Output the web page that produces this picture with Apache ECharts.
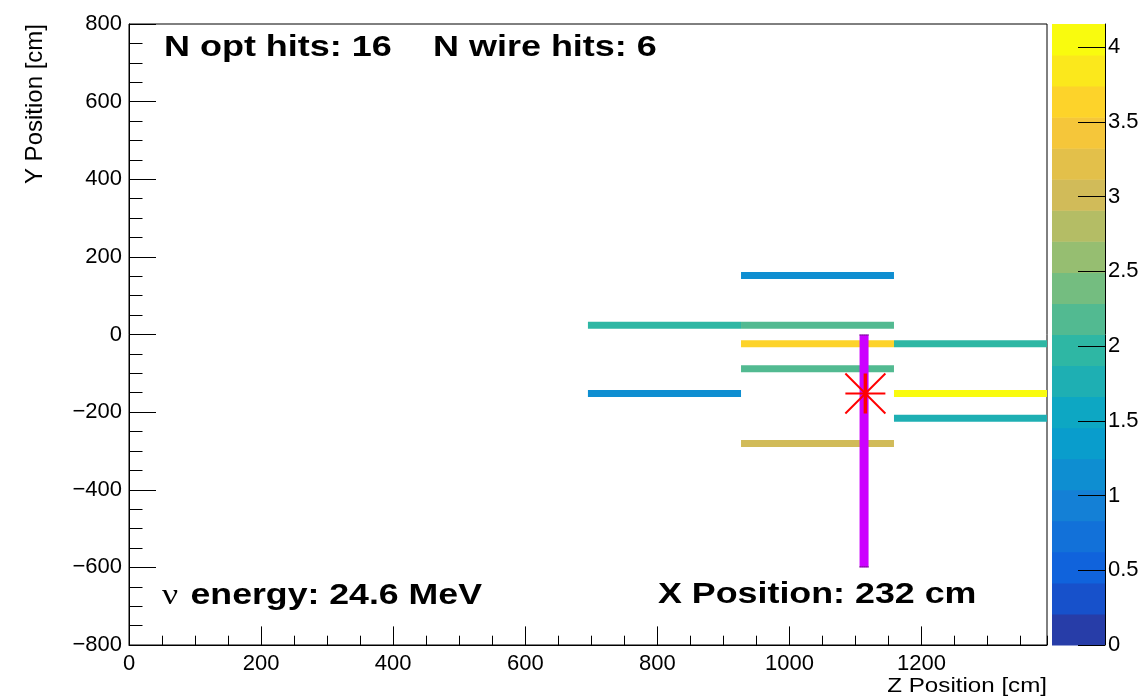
<!DOCTYPE html>
<html>
<head>
<meta charset="utf-8">
<script src="https://cdn.jsdelivr.net/npm/echarts@6/dist/echarts.min.js"></script>
<style>
  html, body { margin: 0; padding: 0; background: #fff; }
  #chart { width: 1146px; height: 697px; }
</style>
</head>
<body>
<div id="chart"></div>
<script>
// Optical hits: z extent of each detector bin, y position and collected charge
const optZStart = [926.7, 694.9, 926.7, 926.7, 1158.3, 926.7, 694.9, 1158.3, 1158.3, 926.7];
const optZEnd   = [1158.3, 926.7, 1158.3, 1158.3, 1390, 1158.3, 926.7, 1390, 1390, 1158.3];
const optY      = [152, 24, 24, -24, -24, -88, -152, -152, -216, -281];
const optCharge = [1.15, 1.97, 2.18, 3.62, 1.95, 2.20, 1.15, 4.15, 1.78, 3.00];

// Wire hit track (z, y extent)
const wireZ = [1113];
const wireYTop = [0];
const wireYBottom = [-600];

// True interaction vertex
const vertexZ = [1115];
const vertexY = [-152];

// Axis ranges
const zRange = [0, 1390];
const yRange = [-800, 800];
const chargeRange = [0, 4.154];

// Event summary
const nOptHits = 16;
const nWireHits = 6;
const nuEnergy = 24.6;   // MeV
const xPosition = 232;   // cm

// kBird colour palette, 20 contour levels
const birdStops = [0, 0.125, 0.25, 0.375, 0.5, 0.625, 0.75, 0.875, 1];
const birdR = [0.2082, 0.0592, 0.0780, 0.0232, 0.1802, 0.5301, 0.8186, 0.9956, 0.9764];
const birdG = [0.1664, 0.3599, 0.5041, 0.6419, 0.7178, 0.7492, 0.7328, 0.7862, 0.9832];
const birdB = [0.5293, 0.8684, 0.8385, 0.7914, 0.6425, 0.4662, 0.3499, 0.1968, 0.0539];
const nContours = 20;

function bird(f) {
  let k = 1;
  while (k < birdStops.length - 1 && f > birdStops[k]) k++;
  const t = (f - birdStops[k - 1]) / (birdStops[k] - birdStops[k - 1]);
  const c = (a) => Math.round(255 * (a[k - 1] + (a[k] - a[k - 1]) * t));
  return 'rgb(' + c(birdR) + ',' + c(birdG) + ',' + c(birdB) + ')';
}
function bandColorByIndex(i) {
  const f = Math.floor((i + 0.99) * 255 / nContours) / 254;
  return bird(Math.min(1, f));
}
function chargeColor(v) {
  let i = Math.floor((v - chargeRange[0]) / (chargeRange[1] - chargeRange[0]) * nContours);
  i = Math.max(0, Math.min(nContours - 1, i));
  return bandColorByIndex(i);
}

const bandIndex = Array.from({ length: nContours }, (_, i) => i);
const bandStep = (chargeRange[1] - chargeRange[0]) / nContours;

const FONT = '"Liberation Sans", Arial, Helvetica, sans-serif';
const minus = (v) => String(v).replace('-', '\u2212');
const plain = (v) => String(v);

const chart = echarts.init(document.getElementById('chart'), null, { renderer: 'canvas' });

const option = {
  backgroundColor: '#fff',
  animation: false,
  grid: [
    { left: 129, top: 24, width: 918, height: 621, show: true, borderColor: '#000', borderWidth: 1,
      backgroundColor: 'transparent', containLabel: false, outerBoundsMode: 'none' },
    { left: 1052, top: 24, width: 53, height: 621, show: false, containLabel: false, outerBoundsMode: 'none' }
  ],
  xAxis: [
    {
      gridIndex: 0, type: 'value', position: 'bottom', min: zRange[0], max: zRange[1], interval: 200,
      axisLine: { show: true, onZero: false, lineStyle: { color: '#000', width: 1 } },
      axisTick: { show: true, inside: true, length: 18.6, lineStyle: { color: '#000', width: 1 } },
      axisLabel: { show: true, color: '#000', fontSize: 22, fontFamily: FONT, margin: 8, showMaxLabel: false, formatter: plain },
      splitLine: { show: false }
    },
    {
      // minor ticks every 50 cm
      gridIndex: 0, type: 'value', position: 'bottom', min: zRange[0], max: zRange[1], interval: 50,
      axisLine: { show: false, onZero: false },
      axisTick: { show: true, inside: true, length: 9.3, lineStyle: { color: '#000', width: 1 } },
      axisLabel: { show: false },
      splitLine: { show: false }
    },
    { gridIndex: 1, type: 'value', min: 0, max: 1, show: false }
  ],
  yAxis: [
    {
      gridIndex: 0, type: 'value', position: 'left', min: yRange[0], max: yRange[1], interval: 200,
      axisLine: { show: true, onZero: false, lineStyle: { color: '#000', width: 1 } },
      axisTick: { show: true, inside: true, length: 27, lineStyle: { color: '#000', width: 1 } },
      minorTick: { show: true, splitNumber: 4, length: 13.5, lineStyle: { color: '#000', width: 1 } },
      axisLabel: { show: true, color: '#000', fontSize: 22, fontFamily: FONT, margin: 7, formatter: minus },
      splitLine: { show: false }, minorSplitLine: { show: false }
    },
    {
      gridIndex: 1, type: 'value', position: 'right', min: chargeRange[0], max: chargeRange[1], interval: 0.5,
      z: 10,
      axisLine: { show: true, onZero: false, lineStyle: { color: '#000', width: 1 } },
      axisTick: { show: true, inside: true, length: 27, lineStyle: { color: '#000', width: 1 } },
      axisLabel: { show: true, color: '#000', fontSize: 22, fontFamily: FONT, margin: 3, showMaxLabel: false, formatter: plain },
      splitLine: { show: false }
    }
  ],
  series: [
    {
      // colour scale bands
      type: 'custom', xAxisIndex: 2, yAxisIndex: 1, z: 1, silent: true,
      data: bandIndex,
      renderItem: function (params, api) {
        const i = api.value(0);
        const p0 = api.coord([0, chargeRange[0] + i * bandStep]);
        const p1 = api.coord([1, chargeRange[0] + (i + 1) * bandStep]);
        return {
          type: 'rect',
          shape: { x: p0[0], y: p1[1], width: p1[0] - p0[0], height: p0[1] - p1[1] + 0.5 },
          style: { fill: bandColorByIndex(i) }
        };
      }
    },
    {
      // optical hits
      type: 'custom', xAxisIndex: 0, yAxisIndex: 0, z: 2, silent: true, clip: true,
      data: optZStart.map((z, i) => [z, optZEnd[i], optY[i], optCharge[i]]),
      encode: { x: [0, 1], y: 2 },
      renderItem: function (params, api) {
        const p0 = api.coord([api.value(0), api.value(2)]);
        const p1 = api.coord([api.value(1), api.value(2)]);
        return {
          type: 'line',
          shape: { x1: p0[0], y1: p0[1], x2: p1[0], y2: p1[1] },
          style: { stroke: chargeColor(api.value(3)), lineWidth: 7, lineCap: 'butt' }
        };
      }
    },
    {
      // wire track
      type: 'custom', xAxisIndex: 0, yAxisIndex: 0, z: 3, silent: true,
      data: wireZ.map((z, i) => [z, wireYTop[i], wireYBottom[i]]),
      encode: { x: 0, y: [1, 2] },
      renderItem: function (params, api) {
        const a = api.coord([api.value(0), api.value(1)]);
        const b = api.coord([api.value(0), api.value(2)]);
        return {
          type: 'group',
          children: [
            { type: 'line', shape: { x1: a[0], y1: a[1], x2: b[0], y2: b[1] },
              style: { stroke: '#cc00ff', lineWidth: 9, lineCap: 'butt' } },
            { type: 'line', shape: { x1: a[0] - 4.5, y1: a[1] + 0.5, x2: a[0] + 4.5, y2: a[1] + 0.5 },
              style: { stroke: '#222', lineWidth: 1, lineDash: [1, 1] } },
            { type: 'line', shape: { x1: b[0] - 4.5, y1: b[1] - 0.5, x2: b[0] + 4.5, y2: b[1] - 0.5 },
              style: { stroke: '#222', lineWidth: 1, lineDash: [1, 1] } }
          ]
        };
      }
    },
    {
      // vertex marker (asterisk)
      type: 'custom', xAxisIndex: 0, yAxisIndex: 0, z: 4, silent: true,
      data: vertexZ.map((z, i) => [z, vertexY[i]]),
      encode: { x: 0, y: 1 },
      renderItem: function (params, api) {
        const c = api.coord([api.value(0), api.value(1)]);
        const r = 20;
        const st = (w) => ({ stroke: '#ff0000', lineWidth: w });
        return {
          type: 'group',
          children: [
            { type: 'line', shape: { x1: c[0] - r, y1: c[1], x2: c[0] + r, y2: c[1] }, style: st(2.2) },
            { type: 'line', shape: { x1: c[0], y1: c[1] - r, x2: c[0], y2: c[1] + r }, style: st(3.5) },
            { type: 'line', shape: { x1: c[0] - r, y1: c[1] - r, x2: c[0] + r, y2: c[1] + r }, style: st(2) },
            { type: 'line', shape: { x1: c[0] - r, y1: c[1] + r, x2: c[0] + r, y2: c[1] - r }, style: st(2) }
          ]
        };
      }
    }
  ],
  graphic: [
    { type: 'text', x: 164, y: 48, scaleX: 1.24, z: 20,
      style: { text: 'N opt hits: ' + nOptHits, font: 'bold 29px ' + FONT, fill: '#000', align: 'left', verticalAlign: 'middle' } },
    { type: 'text', x: 433, y: 48, scaleX: 1.24, z: 20,
      style: { text: 'N wire hits: ' + nWireHits, font: 'bold 29px ' + FONT, fill: '#000', align: 'left', verticalAlign: 'middle' } },
    { type: 'text', x: 162, y: 596, scaleX: 1.23, z: 20,
      style: {
        text: '{nu|\u03bd}{gap| }{b|energy: ' + nuEnergy + ' MeV}',
        align: 'left', verticalAlign: 'middle', fill: '#000',
        rich: {
          nu: { fontFamily: '"Liberation Serif", "DejaVu Serif", serif', fontSize: 29, fontWeight: 'normal', fill: '#000' },
          gap: { fontFamily: FONT, fontSize: 29, fontWeight: 'bold', fill: '#000', padding: [0, 1, 0, 1] },
          b: { fontFamily: FONT, fontSize: 29, fontWeight: 'bold', fill: '#000' }
        }
      } },
    { type: 'text', x: 658, y: 595, scaleX: 1.235, z: 20,
      style: { text: 'X Position: ' + xPosition + ' cm', font: 'bold 29px ' + FONT, fill: '#000', align: 'left', verticalAlign: 'middle' } },
    { type: 'text', x: 35, y: 24, rotation: Math.PI / 2, z: 20,
      style: { text: 'Y Position [cm]', font: '24px ' + FONT, fill: '#000', align: 'right', verticalAlign: 'middle' } },
    { type: 'text', x: 1047, y: 686, scaleX: 1.15, z: 20,
      style: { text: 'Z Position [cm]', font: '21px ' + FONT, fill: '#000', align: 'right', verticalAlign: 'middle' } }
  ]
};

chart.setOption(option);
</script>
</body>
</html>
